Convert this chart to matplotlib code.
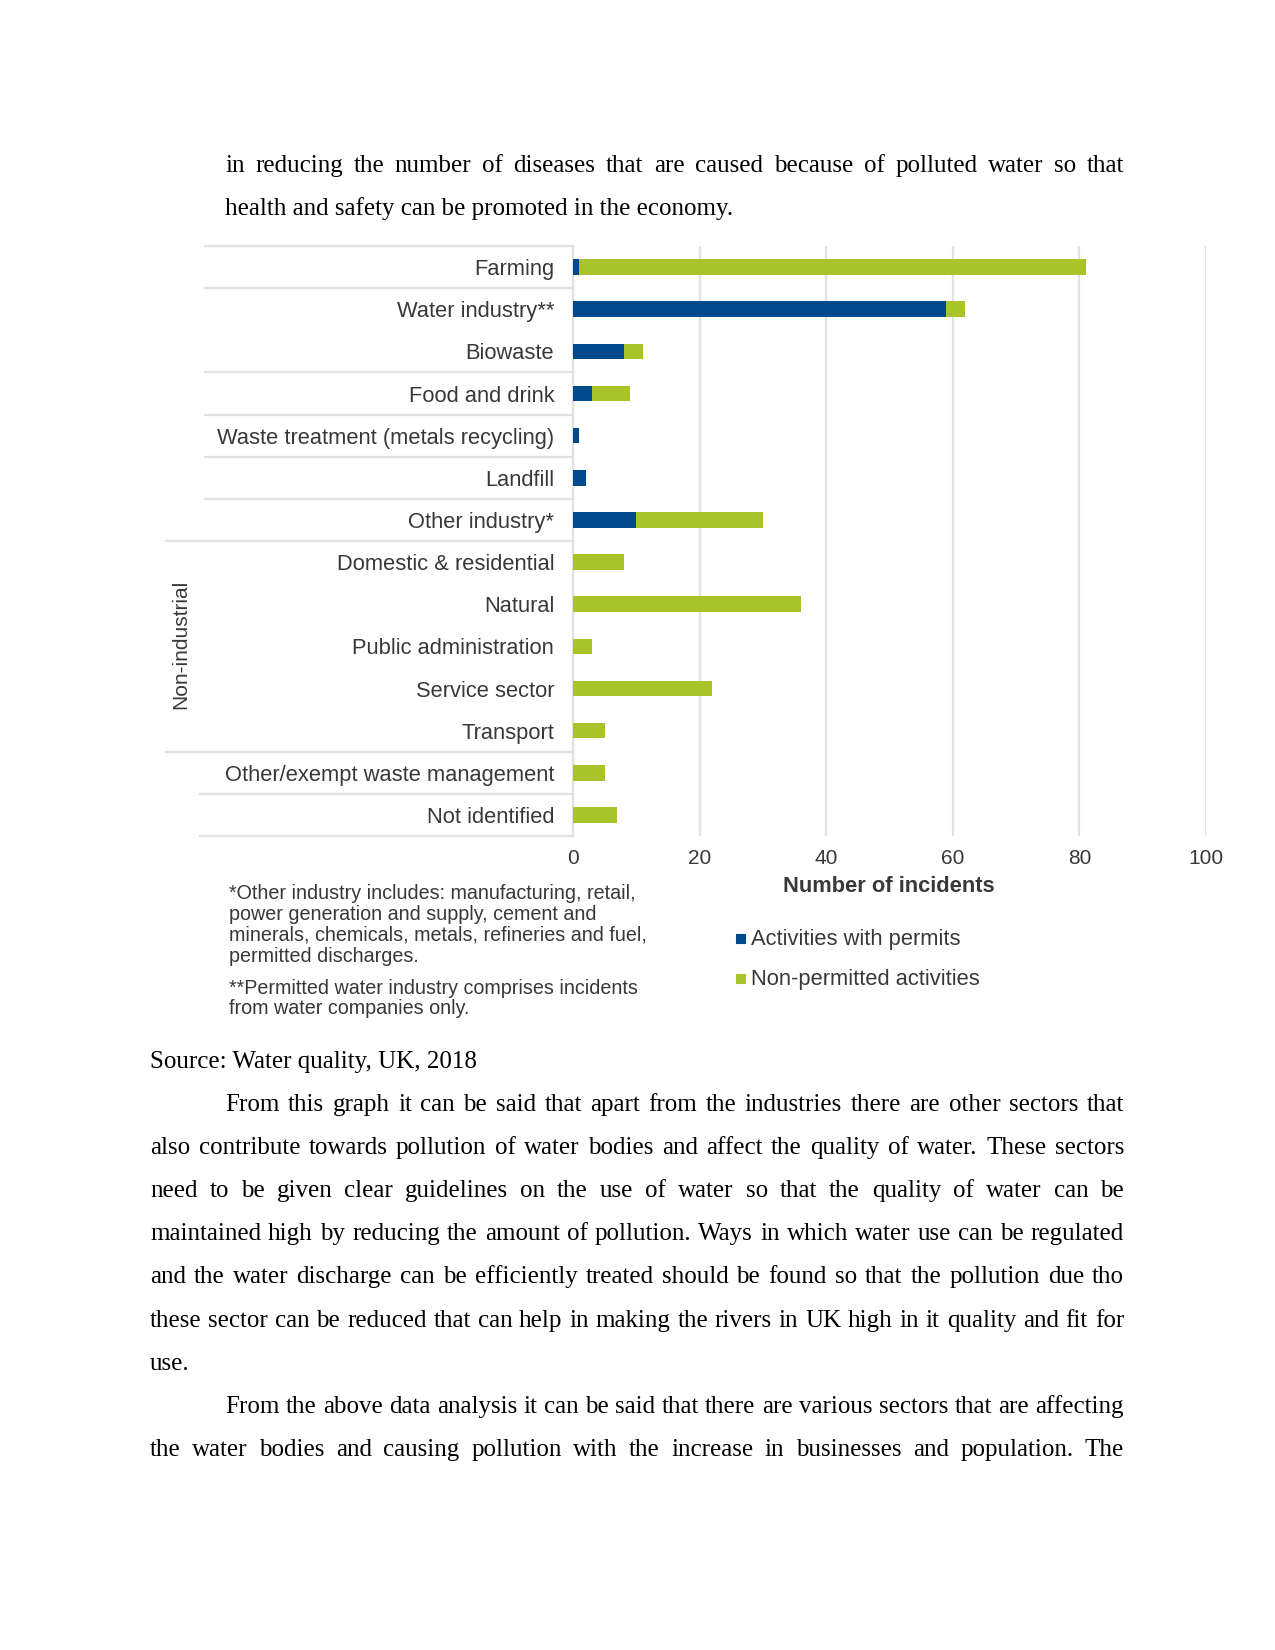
import matplotlib
matplotlib.use("Agg")
import matplotlib.pyplot as plt
from matplotlib.lines import Line2D
from matplotlib.transforms import blended_transform_factory

# chart data (Water quality, UK, 2018)
sectors = ["Farming", "Water industry**", "Biowaste", "Food and drink",
           "Waste treatment (metals recycling)", "Landfill", "Other industry*",
           "Domestic & residential", "Natural", "Public administration",
           "Service sector", "Transport", "Other/exempt waste management",
           "Not identified"]
permitted = [1, 59, 8, 3, 1, 2, 10, 0, 0, 0, 0, 0, 0, 0]
non_permitted = [80, 3, 3, 6, 0, 0, 20, 8, 36, 3, 22, 5, 5, 7]
x_ticks = [0, 20, 40, 60, 80, 100]
series_names = ["Activities with permits", "Non-permitted activities"]
group_label = "Non-industrial"
footnotes = ["*Other industry includes: manufacturing, retail,",
             "power generation and supply, cement and",
             "minerals, chemicals, metals, refineries and fuel,",
             "permitted discharges.",
             "**Permitted water industry comprises incidents",
             "from water companies only."]

# page text
top_lines = [("in reducing the number of diseases that are caused because of polluted water so that", True),
             ("health and safety can be promoted in the economy.", False)]
source_line = "Source: Water quality, UK, 2018"
para1 = ["From this graph it can be said that apart from the industries there are other sectors that",
         "also contribute towards pollution of water bodies and affect the quality of water. These sectors",
         "need to be given clear guidelines on the use of water so that the quality of water can be",
         "maintained high by reducing the amount of pollution. Ways in which water use can be regulated",
         "and the water discharge can be efficiently treated should be found so that the pollution due tho",
         "these sector can be reduced that can help in making the rivers in UK high in it quality and fit for",
         "use."]
para2 = ["From the above data analysis it can be said that there are various sectors that are affecting",
         "the water bodies and causing pollution with the increase in businesses and population. The"]

W, H = 1275, 1650
BLUE = "#004a8c"
GREEN = "#a9c32b"
GRID = "#e2e2e2"
TXT = "#383838"
SANS = ["Liberation Sans", "DejaVu Sans"]
SERIF = ["Liberation Serif", "DejaVu Serif"]

fig = plt.figure(figsize=(W / 150, H / 150), dpi=150)
renderer = fig.canvas.get_renderer()


def fy(py):
    return 1 - py / H


def put_line(text, x0, x1, y, justify):
    if not justify:
        fig.text(x0 / W, fy(y), text, fontsize=12, family=SERIF, va="baseline")
        return
    words = text.split()
    objs = [fig.text(0, fy(y), w, fontsize=12, family=SERIF, va="baseline") for w in words]
    widths = [o.get_window_extent(renderer).width for o in objs]
    gap = (x1 - x0 - sum(widths)) / (len(words) - 1)
    x = x0
    for o, w in zip(objs, widths):
        o.set_x(x / W)
        x += w + gap


# text above the chart
for i, (line, just) in enumerate(top_lines):
    put_line(line, 225, 1124, 172 + i * 43, just)

# chart
ax = fig.add_axes([573 / W, fy(836), (1206 - 573) / W, (836 - 246) / H])
ypos = list(range(len(sectors)))
ax.barh(ypos, permitted, height=0.37, color=BLUE, zorder=3)
ax.barh(ypos, non_permitted, left=permitted, height=0.37, color=GREEN, zorder=3)
ax.set_xlim(0, 100)
ax.set_ylim(len(sectors) - 0.5, -0.5)
ax.set_xticks(x_ticks)
ax.set_xticklabels([str(t) for t in x_ticks], fontsize=10, family=SANS, color=TXT)
ax.set_yticks(ypos)
ax.set_yticklabels(sectors, fontsize=10.5, family=SANS, color=TXT)
ax.tick_params(axis="x", length=0, pad=6)
ax.tick_params(axis="y", length=0, pad=9)
ax.grid(axis="x", color=GRID, lw=1.1, zorder=0)
for s in ["top", "right", "bottom"]:
    ax.spines[s].set_visible(False)
ax.spines["left"].set_color(GRID)
ax.spines["left"].set_linewidth(1.1)

# row separators on the label side
tr = blended_transform_factory(fig.transFigure, ax.transData)
seps = {-0.5: 205, 0.5: 205, 2.5: 205, 3.5: 205, 4.5: 205, 5.5: 205,
        6.5: 166, 11.5: 166, 12.5: 200, 13.5: 200}
for yv, xs in seps.items():
    fig.add_artist(Line2D([xs / W, 572 / W], [yv, yv], color=GRID, lw=1.1,
                          transform=tr, clip_on=False))

fig.text(181 / W, fy(644), group_label, rotation=90, ha="center", va="center",
         fontsize=10, family=SANS, color=TXT)
fig.text(889 / W, fy(887), "Number of incidents", ha="center", va="center",
         fontsize=10.5, fontweight="bold", family=SANS, color=TXT)

# legend
for i, (name, col) in enumerate(zip(series_names, [BLUE, GREEN])):
    yy = 939 + i * 40
    fig.add_artist(Line2D([741 / W], [fy(yy)], marker="s", ms=3.6, color=col,
                          lw=0, transform=fig.transFigure))
    fig.text(751 / W, fy(yy), name, va="center", fontsize=10.5, family=SANS, color=TXT)

# footnotes
foot_y = [893, 914, 935, 957, 988, 1008]
for line, yy in zip(footnotes, foot_y):
    fig.text(229 / W, fy(yy), line, va="center", fontsize=9.5, family=SANS, color=TXT)

# text below the chart
put_line(source_line, 150, 1124, 1068, False)
y = 1068 + 43.1
for i, line in enumerate(para1):
    x0 = 225 if i == 0 else 150
    put_line(line, x0, 1124, y, i < len(para1) - 1)
    y += 43.1
for i, line in enumerate(para2):
    x0 = 225 if i == 0 else 150
    put_line(line, x0, 1124, y, True)
    y += 43.1

fig.savefig("out.png", dpi=150)
